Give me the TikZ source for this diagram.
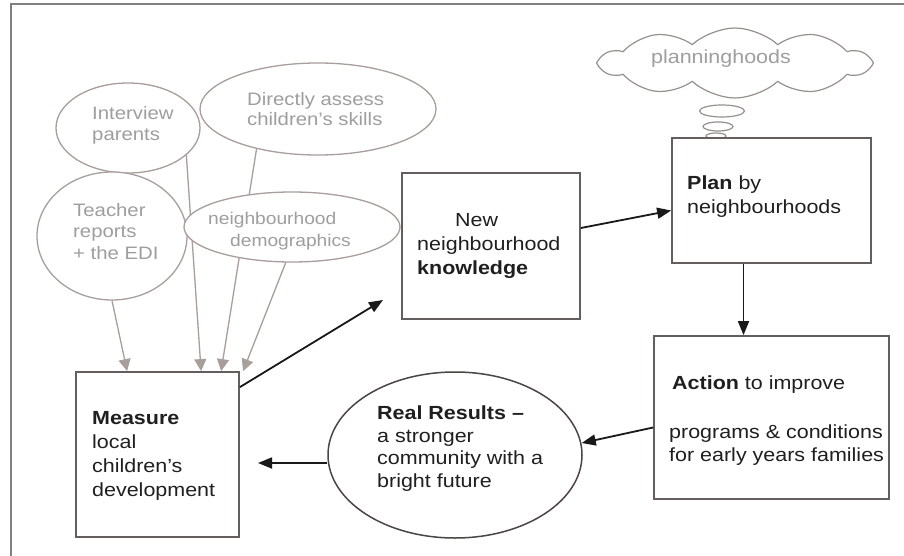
\documentclass[tikz,border=0pt]{standalone}
\usepackage{fontspec}
\setmainfont{Liberation Sans}[FakeStretch=1.13]
\usetikzlibrary{shapes.geometric,shapes.symbols,arrows.meta,calc}
\pgfdeclarelayer{bg}
\pgfsetlayers{bg,main}
\definecolor{framec}{RGB}{128,128,128}
\definecolor{boxc}{RGB}{100,94,94}
\definecolor{gellc}{RGB}{168,158,155}
\definecolor{gtextc}{RGB}{158,158,158}
\definecolor{arrowc}{RGB}{25,25,25}
\definecolor{realc}{RGB}{75,70,70}
\definecolor{cloudc}{RGB}{150,145,142}
\begin{document}
\begin{tikzpicture}[x=1pt,y=-1pt,
  box/.style={rectangle,draw=boxc,line width=1.8pt,fill=white,inner sep=0pt},
  gell/.style={ellipse,draw=gellc,line width=1.3pt,fill=white,inner sep=0pt},
  btxt/.style={align=left,inner sep=0pt,anchor=north west,text=black!88,font=\fontsize{19}{24}\selectfont},
  gtxt/.style={align=left,inner sep=0pt,anchor=north west,text=gtextc,font=\fontsize{18}{21.5}\selectfont},
  barrow/.style={draw=arrowc,line width=1.8pt,-{Triangle[length=14pt,width=11pt]}},
  garrow/.style={draw=gellc,line width=1.3pt,-{Triangle[length=12pt,width=12pt]}}]
\useasboundingbox (0,0) rectangle (904,556);
\begin{pgfonlayer}{bg}
\fill[white] (0,0) rectangle (904,556);
\end{pgfonlayer}
\draw[framec,line width=2pt] (11,556) -- (11,4) -- (904,4);

% grey source ellipses
\node[gell,minimum width=144pt,minimum height=90pt] (interview) at (128,128) {};
\node[gell,minimum width=236pt,minimum height=92pt] (directly) at (318,109) {};
\node[gell,minimum width=150pt,minimum height=128pt] (teacher) at (112,236) {};
\node[gell,minimum width=216pt,minimum height=70pt] (demo) at (292,227) {};

% thought cloud
\node[cloud,cloud puffs=10,cloud puff arc=85,cloud ignores aspect,draw=cloudc,line width=1.2pt,fill=white,minimum width=268pt,minimum height=70pt,inner sep=0pt] (cloud) at (735,63) {};
\node[ellipse,draw=cloudc,line width=1.2pt,fill=white,minimum width=45pt,minimum height=12pt,inner sep=0pt] (bub1) at (722,111) {};
\node[ellipse,draw=cloudc,line width=1.2pt,fill=white,minimum width=30pt,minimum height=9pt,inner sep=0pt] (bub2) at (718,126.5) {};
\node[ellipse,draw=cloudc,line width=1.2pt,fill=white,minimum width=20pt,minimum height=6pt,inner sep=0pt] (bub3) at (716,136) {};

% boxes
\node[box,minimum width=163pt,minimum height=165pt] (meas) at (157.5,454.5) {};
\node[box,minimum width=178pt,minimum height=146pt] (new) at (491,246) {};
\node[box,minimum width=199pt,minimum height=125pt] (plan) at (771.5,200.5) {};
\node[box,minimum width=235pt,minimum height=163pt] (action) at (771.5,417.5) {};
\node[ellipse,draw=realc,line width=1.5pt,fill=white,minimum width=254pt,minimum height=166pt,inner sep=0pt] (real) at (455,455) {};

% free arrow ends
\coordinate (newin) at (383,300);
\coordinate (measin) at (258,463);

% grey arrows into Measure (behind the ellipses)
\begin{pgfonlayer}{bg}
\draw[garrow] (teacher.south) -- ($(meas.north west)+(52,0)$);
\draw[garrow] (interview.-25) -- ($(meas.north west)+(126,0)$);
\draw[garrow] (directly.213) -- ($(meas.north west)+(146,0)$);
\draw[garrow] (demo.-100) -- ($(meas.north west)+(168,0)$);
\end{pgfonlayer}

% black arrows of the cycle
\draw[barrow] ($(meas.north east)+(0,16)$) -- (newin);
\draw[barrow] ($(new.east)+(0,-18)$) -- ($(plan.west)+(0,10)$);
\draw[barrow] ($(plan.south)+(-28,0)$) -- ($(action.north)+(-28,0)$);
\draw[barrow] ($(action.west)+(0,10)$) -- ($(real.east)+(-1,-12)$);
\draw[barrow] ($(real.west)+(0,8)$) -- (measin);

% texts
\node[gtxt] (t-interview) at (92,106) {Interview\\parents};
\node[gtxt,font=\fontsize{18}{20.5}\selectfont] (t-directly) at (247,92) {Directly assess\\children's skills};
\node[gtxt] (t-teacher) at (73,203) {Teacher\\reports\\+ the EDI};
\node[gtxt,font=\fontsize{17}{22}\selectfont] (t-demo) at (208,212) {neighbourhood\\\hspace*{22pt}demographics};
\node[text=gtextc,inner sep=0pt,font=\fontsize{19}{22}\selectfont] (t-cloud) at (721,59) {planninghoods};

\node[btxt] (t-meas) at (92,411) {\textbf{Measure}\\local\\children's\\development};
\node[btxt] (t-new) at (417,213) {\hspace*{38pt}New\\neighbourhood\\\textbf{knowledge}};
\node[btxt] (t-plan) at (687,176) {\textbf{Plan} by\\neighbourhoods};
\node[btxt] (t-action) at (672,376) {\textbf{Action} to improve};
\node[btxt,font=\fontsize{19}{23}\selectfont] (t-prog) at (669,425) {programs \& conditions\\for early years families};
\node[btxt,font=\fontsize{19}{22.5}\selectfont] (t-real) at (377,406) {\textbf{Real Results \textendash}\\a stronger\\community with a\\bright future};
\end{tikzpicture}
\end{document}
